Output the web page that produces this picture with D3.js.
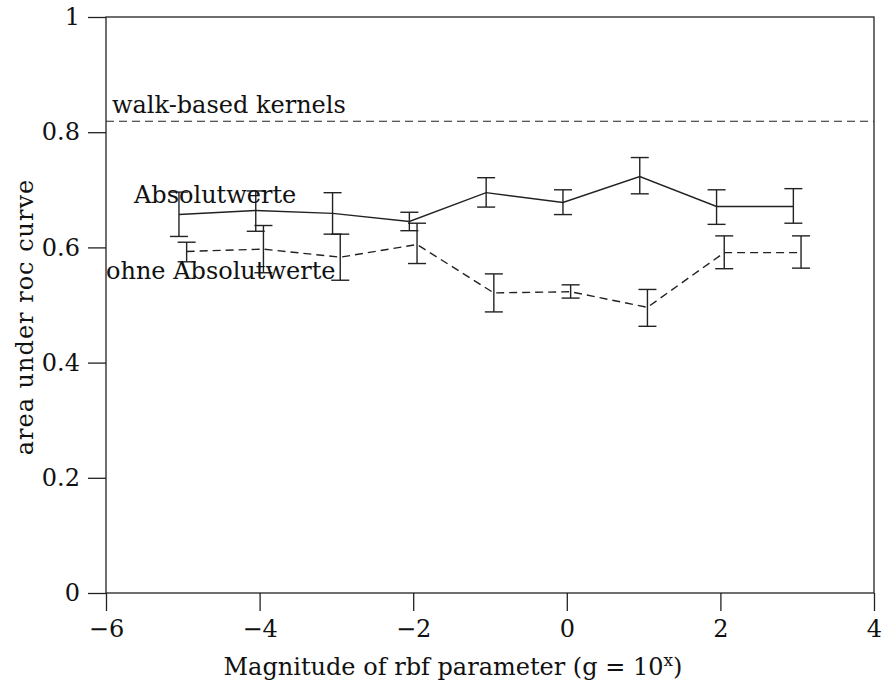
<!DOCTYPE html>
<html>
<head>
<meta charset="utf-8">
<script src="https://cdn.jsdelivr.net/npm/d3@7"></script>
<style>
  html, body { margin: 0; padding: 0; background: #fff; }
  svg text { font-family: "DejaVu Serif", "Liberation Serif", serif; fill: #111; }
</style>
</head>
<body>
<svg id="chart" width="882" height="683"></svg>
<script>
// ---- data ----
const magnitudes = [-5, -4, -3, -2, -1, 0, 1, 2, 3];
const absMean  = [0.657, 0.664, 0.659, 0.645, 0.695, 0.678, 0.723, 0.671, 0.671];
const absLow   = [0.619, 0.628, 0.623, 0.629, 0.670, 0.657, 0.693, 0.640, 0.642];
const absHigh  = [0.696, 0.698, 0.695, 0.661, 0.721, 0.700, 0.756, 0.700, 0.702];
const ohneMean = [0.593, 0.597, 0.583, 0.605, 0.521, 0.523, 0.496, 0.591, 0.591];
const ohneLow  = [0.575, 0.556, 0.543, 0.572, 0.488, 0.512, 0.463, 0.563, 0.564];
const ohneHigh = [0.609, 0.638, 0.623, 0.642, 0.554, 0.535, 0.527, 0.620, 0.620];
const walkBased = 0.819;
const xTicks = [-6, -4, -2, 0, 2, 4];
const yTicks = [0, 0.2, 0.4, 0.6, 0.8, 1];
const seriesOffset = 0.05;

// ---- layout ----
const svg = d3.select("#chart");
const pL = 106, pR = 874, pT = 17, pB = 593;
const x = d3.scaleLinear().domain([-6, 4]).range([pL, pR]);
const y = d3.scaleLinear().domain([0, 1]).range([pB, pT]);
const stroke = "#222";
const fs = 24;

// frame
svg.append("rect").attr("x", pL).attr("y", pT)
  .attr("width", pR - pL).attr("height", pB - pT)
  .attr("fill", "none").attr("stroke", stroke).attr("stroke-width", 1.3);

// axes
const xAxis = svg.append("g").attr("transform", `translate(0,${pB})`)
  .call(d3.axisBottom(x).tickValues(xTicks).tickSize(18).tickPadding(9)
    .tickFormat(d => d < 0 ? "\u2212" + Math.abs(d) : String(d)));
const yAxis = svg.append("g").attr("transform", `translate(${pL},0)`)
  .call(d3.axisLeft(y).tickValues(yTicks).tickSize(18).tickPadding(8)
    .tickFormat(d => d === 0 || d === 1 ? String(d) : d3.format(".1f")(d)));
[xAxis, yAxis].forEach(a => {
  a.select(".domain").remove();
  a.selectAll(".tick line").attr("stroke", stroke).attr("stroke-width", 1.3);
  a.selectAll(".tick text").style("font-family", '"DejaVu Serif", serif')
    .style("font-size", fs + "px").attr("fill", "#111");
});

// walk-based line
svg.append("line").attr("x1", pL).attr("x2", pR)
  .attr("y1", y(walkBased)).attr("y2", y(walkBased))
  .attr("stroke", stroke).attr("stroke-width", 1.2).attr("stroke-dasharray", "8,5");

function drawSeries(means, lows, highs, off, dash) {
  const pts = magnitudes.map((m, i) => ({ x: m + off, m: means[i], lo: lows[i], hi: highs[i] }));
  svg.append("path").datum(pts)
    .attr("d", d3.line().x(d => x(d.x)).y(d => y(d.m)))
    .attr("fill", "none").attr("stroke", stroke).attr("stroke-width", 1.4)
    .attr("stroke-dasharray", dash);
  const g = svg.append("g").attr("stroke", stroke).attr("stroke-width", 1.4);
  pts.forEach(d => {
    g.append("line").attr("x1", x(d.x)).attr("x2", x(d.x)).attr("y1", y(d.lo)).attr("y2", y(d.hi));
    g.append("line").attr("x1", x(d.x) - 9).attr("x2", x(d.x) + 9).attr("y1", y(d.lo)).attr("y2", y(d.lo));
    g.append("line").attr("x1", x(d.x) - 9).attr("x2", x(d.x) + 9).attr("y1", y(d.hi)).attr("y2", y(d.hi));
  });
}
drawSeries(absMean, absLow, absHigh, -seriesOffset, null);
drawSeries(ohneMean, ohneLow, ohneHigh, seriesOffset, "8,5");

// labels
svg.append("text").attr("x", 112).attr("y", 113).style("font-size", fs + "px").text("walk-based kernels");
svg.append("text").attr("x", 134).attr("y", 203).style("font-size", fs + "px").text("Absolutwerte");
svg.append("text").attr("x", 106).attr("y", 279).style("font-size", fs + "px").text("ohne Absolutwerte");

// axis titles
const xt = svg.append("text").attr("x", 453).attr("y", 675).attr("text-anchor", "middle")
  .style("font-size", fs + "px");
xt.append("tspan").text("Magnitude of rbf parameter (g = 10");
xt.append("tspan").attr("dy", -9).style("font-size", "17px").text("x");
xt.append("tspan").attr("dy", 9).text(")");

svg.append("text").attr("transform", "translate(33,317) rotate(-90)")
  .attr("text-anchor", "middle").style("font-size", fs + "px")
  .style("letter-spacing", "1px").text("area under roc curve");
</script>
</body>
</html>
